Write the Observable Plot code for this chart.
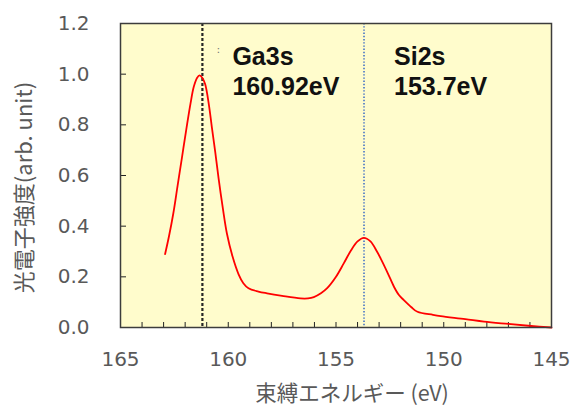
<!DOCTYPE html>
<html>
<head>
<meta charset="utf-8">
<script src="https://cdn.jsdelivr.net/npm/d3@7"></script>
<script src="https://cdn.jsdelivr.net/npm/@observablehq/plot@0.6"></script>
<style>
  html, body { margin: 0; padding: 0; background: #fff; }
  #chart svg { display: block; }
</style>
</head>
<body>
<div id="chart"></div>
<script>
// Spectrum (binding energy in eV, intensity in arb. unit)
const energy = [162.93, 162.75, 162.55, 162.35, 162.15, 161.95, 161.75, 161.6, 161.45, 161.33, 161.2,
  161.07, 160.9, 160.76, 160.6, 160.45, 160.25, 160.06, 159.8, 159.52, 159.3,
  159.06, 158.6, 158.2, 157.5, 156.65, 156.3, 156.03, 155.7, 155.41, 155.0,
  154.64, 154.3, 154.0, 153.71, 153.4, 153.1, 152.93, 152.6, 152.31, 152.08,
  151.85, 151.5, 151.22, 150.5, 150.14, 149.0, 148.13, 147.0, 145.95, 145.0];
const intensity = [0.29, 0.36, 0.45, 0.56, 0.67, 0.78, 0.885, 0.95, 0.985, 0.995, 0.985,
  0.96, 0.88, 0.79, 0.69, 0.59, 0.47, 0.37, 0.28, 0.21, 0.175,
  0.155, 0.142, 0.135, 0.125, 0.115, 0.115, 0.12, 0.135, 0.155, 0.2,
  0.253, 0.305, 0.34, 0.354, 0.34, 0.30, 0.273, 0.215, 0.161, 0.128,
  0.108, 0.08, 0.062, 0.05, 0.045, 0.033, 0.023, 0.014, 0.006, 0.0];

// Peak markers
const peakNames = ["Ga3s", "Si2s"];
const peakEnergyLabels = ["160.92eV", "153.7eV"];
const peakLinePositions = [161.2, 153.7];

// Axes
const xTicksMajor = [165, 160, 155, 150, 145];
const xTicksMinor = d3.range(145, 166, 1);
const yTicks = [0, 0.2, 0.4, 0.6, 0.8, 1.0, 1.2];
const xLabel = "束縛エネルギー (eV)";
const yLabel = "光電子強度(arb. unit)";

const spectrum = energy.map((e, i) => ({energy: e, intensity: intensity[i]}));
const peaks = peakNames.map((n, i) => ({name: n, label: n + "\n" + peakEnergyLabels[i], pos: peakLinePositions[i]}));

const tickFont = "DejaVu Sans, Verdana, sans-serif";
const cjkFont = "'Noto Sans CJK JP', 'Noto Sans', sans-serif";

const chart = Plot.plot({
  width: 571,
  height: 409,
  marginLeft: 120,
  marginRight: 20,
  marginTop: 23,
  marginBottom: 82,
  style: {background: "#fff", fontFamily: tickFont},
  x: {domain: [165, 145]},
  y: {domain: [0, 1.2]},
  marks: [
    Plot.frame({fill: "#FFFCCC", stroke: "none"}),
    // tick labels
    Plot.axisX({ticks: xTicksMajor, tickSize: 0, tickPadding: 24, tickFormat: d3.format("d"),
      fontSize: 20, fill: "#595959", label: null}),
    Plot.axisY({ticks: yTicks, tickSize: 0, tickPadding: 31, tickFormat: d3.format(".1f"),
      fontSize: 20, fill: "#595959", label: null}),
    // inward ticks
    Plot.axisX({ticks: xTicksMinor, tickSize: 5, dy: -5, tickFormat: () => "", stroke: "#222", label: null}),
    Plot.axisY({ticks: yTicks, tickSize: 6, dx: 6, tickFormat: () => "", stroke: "#222", label: null}),
    // peak position lines
    Plot.ruleX(peaks.slice(0, 1), {x: "pos", stroke: "#262626", strokeWidth: 2.2, strokeDasharray: "3,2"}),
    Plot.ruleX(peaks.slice(1), {x: "pos", stroke: "#4472C4", strokeWidth: 1.6, strokeDasharray: "1.4,1.8"}),
    // spectrum
    Plot.line(spectrum, {x: "energy", y: "intensity", stroke: "#FF0000", strokeWidth: 1.8, curve: "catmull-rom"}),
    // annotations
    Plot.text(peaks, {x: "pos", frameAnchor: "top", dy: 20, dx: 30, text: "label", textAnchor: "start",
      lineAnchor: "top", lineHeight: 1.2, fontSize: 25, fontWeight: "bold",
      fontFamily: "Liberation Sans, Arial, sans-serif", fill: "#111"}),
    Plot.text(peaks.slice(0, 1), {x: "pos", frameAnchor: "top", dy: 22, dx: 14, text: () => ":", textAnchor: "start",
      lineAnchor: "top", fontSize: 11, fill: "#777"}),
    Plot.frame({stroke: "#3c3c3c", strokeWidth: 1.5}),
    // axis titles
    Plot.text([xLabel], {frameAnchor: "bottom", dy: 67, dx: 16, text: d => d, fontSize: 21.5,
      fontFamily: cjkFont, fill: "#595959", lineAnchor: "middle", textAnchor: "middle"}),
    Plot.text([yLabel], {frameAnchor: "left", dx: -96, dy: 12, rotate: -90, text: d => d, fontSize: 22,
      fontFamily: cjkFont, fill: "#595959", lineAnchor: "middle", textAnchor: "middle"})
  ]
});
document.getElementById("chart").appendChild(chart);
</script>
</body>
</html>
